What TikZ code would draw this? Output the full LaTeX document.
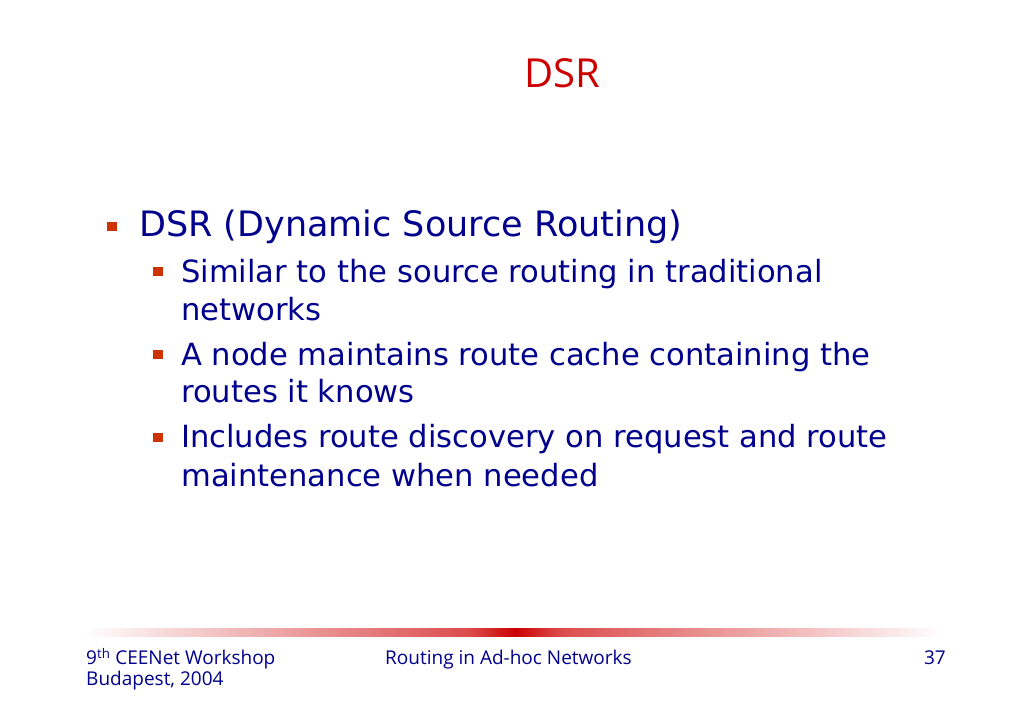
\documentclass[tikz,border=0pt]{standalone}
\usepackage{fontspec}
\setmainfont{DejaVu Sans}
\newfontfamily\titlefont{Open Sans}
\newfontfamily\footfont{Open Sans}
\definecolor{navy}{RGB}{0,0,140}
\definecolor{titlered}{RGB}{204,0,0}
\definecolor{bulletred}{RGB}{204,51,0}
\tikzset{
  titletext/.style={anchor=base west, inner sep=0pt, text=titlered, font=\titlefont\fontsize{40}{40}\selectfont},
  maintext/.style={anchor=base west, inner sep=0pt, text=navy, font=\fontsize{35}{35}\selectfont},
  subtext/.style={anchor=base west, inner sep=0pt, text=navy, font=\fontsize{30.6}{30.6}\selectfont},
  foottext/.style={inner sep=0pt, text=navy, font=\footfont\fontsize{19}{19}\selectfont},
  bulletsq/.style={fill=bulletred, draw=none, minimum width=9.5pt, minimum height=9pt, inner sep=0pt},
}
\begin{document}
\begin{tikzpicture}[x=1pt,y=1pt]
\useasboundingbox (0,0) rectangle (1023,708);
\fill[white] (0,0) rectangle (1023,708);
% title
\node[titletext] (title) at (524,620) {DSR};
% main bullet
\node[bulletsq] (b0) at (112,481.5) {};
\node[maintext] (m0) at (139,471) {DSR (Dynamic Source Routing)};
% sub bullets
\node[bulletsq] (b1) at (158,436) {};
\node[subtext] (s1a) at (181,425) {Similar to the source routing in traditional};
\node[subtext] (s1b) at (181,387) {networks};
\node[bulletsq] (b2) at (158,353) {};
\node[subtext] (s2a) at (181,342) {A node maintains route cache containing the};
\node[subtext] (s2b) at (181,305) {routes it knows};
\node[bulletsq] (b3) at (158,270) {};
\node[subtext] (s3a) at (181,260) {Includes route discovery on request and route};
\node[subtext] (s3b) at (181,221) {maintenance when needed};
% footer bar
\shade[left color=white, right color=titlered!70] (84,71) rectangle (470,79);
\shade[left color=titlered!70, right color=titlered] (470,71) rectangle (515,79);
\shade[left color=titlered, right color=titlered!70] (515,71) rectangle (560,79);
\shade[left color=titlered!70, right color=white] (560,71) rectangle (942,79);
% footer text
\node[foottext, anchor=base west] (f1) at (86,43) {9\textsuperscript{th} CEENet Workshop};
\node[foottext, anchor=base west] (f2) at (86,22) {Budapest, 2004};
\node[foottext, anchor=base west] (f3) at (385,43) {Routing in Ad-hoc Networks};
\node[foottext, anchor=base east] (f4) at (946,43) {37};
\end{tikzpicture}
\end{document}
